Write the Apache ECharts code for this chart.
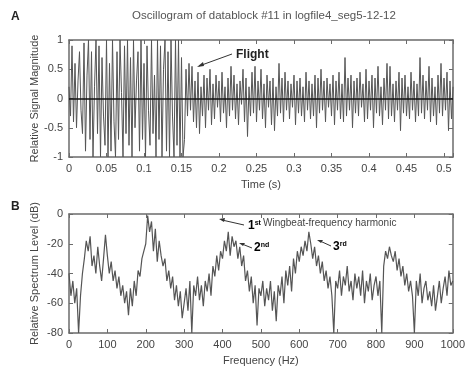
<!DOCTYPE html>
<html><head><meta charset="utf-8">
<script src="https://cdn.jsdelivr.net/npm/echarts@6/dist/echarts.min.js"></script>
<style>html,body{margin:0;padding:0;background:#fff}#c{width:468px;height:368px}</style>
</head><body><div id="c"></div>
<script>
// ---- Data ----
const chartTitle = 'Oscillogram of datablock #11 in logfile4_seg5-12-12';
const sampleInterval = 0.002; // seconds between samples
const signalValues = [
 0.2,-0.3,0.9,-0.4,0.6,-0.5,0.3,0.8,-0.2,-0.6,0.95,
 -0.9,0.4,1,-0.7,0.8,-1,0.2,1,-0.6,0.9,
 -1,0.7,-0.3,-0.8,1,-1,0.6,-0.9,1,-0.4,
 -1,0.8,-0.7,1,0.1,-1,0.9,-0.6,1,-0.8,
 0.7,-1,1,-0.5,0.3,0.8,-0.9,1,-0.7,0.6,
 -1,0.9,-0.2,-0.8,1,-0.6,0.4,-1,1,-0.7,
 0.9,-1,0.5,1,-0.9,0.8,-1,1,-0.3,-1,
 1,-0.8,1,-1,0.7,
 -1,
 -0.7,0.5,-0.3,0.6,-0.2,0.55,-0.4,0.3,-0.5,0.45,
 -0.6,0.2,-0.3,0.4,-0.5,0.35,-0.2,0.5,-0.45,0.25,
 -0.35,0.4,-0.15,0.3,-0.4,0.45,-0.25,0.2,-0.5,0.35,
 -0.3,0.55,-0.2,0.4,-0.35,0.25,-0.45,0.3,-0.1,0.5,
 -0.4,0.35,-0.65,0.2,-0.3,0.45,-0.25,0.55,-0.4,0.3,
 -0.2,0.5,-0.35,0.25,-0.5,0.4,-0.15,0.3,-0.45,0.35,
 -0.55,0.2,-0.3,0.6,-0.25,0.35,-0.4,0.45,-0.2,0.3,
 -0.35,0.25,-0.15,0.4,-0.45,0.3,-0.25,0.35,-0.3,0.2,
 -0.4,0.45,-0.2,0.3,-0.35,0.25,-0.3,0.4,-0.5,0.35,
 -0.25,0.5,-0.2,0.3,-0.4,0.35,-0.15,0.25,-0.3,0.4,
 -0.45,0.3,-0.2,0.45,-0.35,0.25,-0.4,0.7,-0.3,0.35,
 -0.2,0.4,-0.5,0.3,-0.25,0.35,-0.3,0.45,-0.15,0.25,
 -0.4,0.5,-0.35,0.3,-0.2,0.4,-0.5,0.35,-0.25,0.55,
 -0.3,0.2,-0.45,0.35,-0.2,0.6,-0.35,0.55,-0.3,0.25,
 -0.4,0.3,-0.2,0.45,-0.55,0.35,-0.25,0.4,-0.3,0.2,
 -0.35,0.45,-0.2,0.3,-0.4,0.25,-0.3,0.7,-0.25,0.4,
 -0.35,0.3,-0.2,0.55,-0.4,0.35,-0.3,0.2,-0.45,0.4,
 -0.25,0.6,-0.3,0.35,-0.2,0.45,-0.55,0.3,-0.35,0.2
];
const freqStep = 5; // Hz between spectrum bins
const spectrumValues = [
 -40,-55,-45,-60,-50,-80,-55,-40,-30,-18,
 -25,-15,-35,-28,-40,-22,-35,-45,-30,-14,
 -28,-40,-32,-45,-38,-50,-42,-55,-48,-60,
 -52,-68,-50,-62,-45,-55,-38,-42,-30,-25,
 -20,-1,-12,-5,-25,-10,-32,-18,-28,-35,
 -30,-45,-38,-50,-42,-58,-48,-62,-52,-70,
 -60,-50,-65,-45,-80,-48,-55,-42,-58,-48,
 -62,-45,-52,-40,-55,-35,-42,-28,-38,-25,
 -30,-18,-25,-12,-28,-15,-22,-18,-30,-22,
 -35,-28,-45,-38,-52,-42,-60,-48,-75,-50,
 -55,-45,-62,-50,-58,-45,-65,-52,-72,-48,
 -55,-42,-60,-38,-48,-35,-52,-30,-40,-25,
 -32,-22,-28,-18,-25,-12,-20,-30,-22,-35,
 -28,-40,-32,-45,-38,-50,-42,-55,-80,-45,
 -50,-38,-55,-42,-48,-35,-52,-45,-58,-40,
 -50,-42,-55,-38,-60,-45,-52,-40,-58,-48,
 -42,-55,-45,-80,-35,-25,-30,-22,-28,-32,
 -25,-38,-30,-42,-35,-48,-40,-52,-45,-55,
 -80,-45,-55,-40,-60,-50,-45,-58,-52,-62,
 -48,-65,-55,-45,-60,-50,-42,-55,-38,-48,
 -45
];
const timeTicks = {min: 0, max: 0.512, interval: 0.05};
const ampTicks = {min: -1, max: 1, interval: 0.5};
const freqTicks = {min: 0, max: 1000, interval: 100};
const levelTicks = {min: -80, max: 0, interval: 20};

// ---- Build ----
const sigData = signalValues.map((v, i) => [+(i * sampleInterval).toFixed(4), v]);
const specData = spectrumValues.map((v, i) => [i * freqStep, v]);

const FONT = 'Liberation Sans, Arial, sans-serif';
const lblColor = '#444';
const axisCol = '#6b6b6b';

function isMultiple(v, step) { return Math.abs(v / step - Math.round(v / step)) < 1e-6; }

function xAx(gi, t, name, gap, main) {
  return {
    type: 'value', gridIndex: gi, min: t.min, max: t.max, interval: t.interval,
    position: main ? 'bottom' : 'top',
    name: main ? name : '', nameLocation: 'middle', nameGap: gap, nameMoveOverlap: false,
    nameTextStyle: {color: lblColor, fontSize: 11, fontFamily: FONT},
    axisLine: {show: true, onZero: false, lineStyle: {color: axisCol, width: 1.5}},
    axisTick: {show: true, inside: true, length: 4, lineStyle: {color: axisCol}},
    axisLabel: {show: main, color: lblColor, fontSize: 11, fontFamily: FONT, margin: 6,
      formatter: v => isMultiple(v, t.interval) ? String(+v.toFixed(4)) : ''},
    splitLine: {show: false}
  };
}
function yAx(gi, t, name, gap, main) {
  return {
    type: 'value', gridIndex: gi, min: t.min, max: t.max, interval: t.interval,
    position: main ? 'left' : 'right',
    name: main ? name : '', nameLocation: 'middle', nameGap: gap, nameRotate: 90, nameMoveOverlap: false,
    nameTextStyle: {color: lblColor, fontSize: 11, fontFamily: FONT},
    axisLine: {show: true, onZero: false, lineStyle: {color: axisCol, width: 1.5}},
    axisTick: {show: true, inside: true, length: 4, lineStyle: {color: axisCol}},
    axisLabel: {show: main, color: lblColor, fontSize: 11, fontFamily: FONT, margin: 6,
      formatter: v => String(v)},
    splitLine: {show: false}
  };
}

const supRich = {
  b: {fontSize: 12, fontWeight: 'bold', fontFamily: FONT, color: '#333', verticalAlign: 'bottom'},
  s: {fontSize: 7, fontWeight: 'bold', fontFamily: FONT, color: '#333', verticalAlign: 'top', padding: [0, 0, 0, 0]}
};

const chart = echarts.init(document.getElementById('c'), null, {renderer: 'canvas'});
chart.setOption({
  backgroundColor: '#fff',
  animation: false,
  title: {text: chartTitle, left: 259, top: 5, textAlign: 'center',
    textStyle: {fontSize: 11.5, fontWeight: 'normal', color: '#555', fontFamily: FONT}},
  grid: [
    {left: 69, right: 15, top: 40, height: 117},
    {left: 69, right: 15, top: 214, height: 119}
  ],
  xAxis: [
    xAx(0, timeTicks, 'Time (s)', 22, true),
    xAx(0, timeTicks, '', 0, false),
    xAx(1, freqTicks, 'Frequency (Hz)', 22, true),
    xAx(1, freqTicks, '', 0, false)
  ],
  yAxis: [
    yAx(0, ampTicks, 'Relative Signal Magnitude', 29, true),
    yAx(0, ampTicks, '', 0, false),
    yAx(1, levelTicks, 'Relative Spectrum Level (dB)', 29, true),
    yAx(1, levelTicks, '', 0, false)
  ],
  series: [
    {type: 'line', xAxisIndex: 0, yAxisIndex: 0, data: sigData, symbol: 'none',
     lineStyle: {color: '#555', width: 1}, z: 3,
     markLine: {silent: true, symbol: 'none', label: {show: false},
       lineStyle: {color: '#111', width: 1.5, type: 'solid'}, data: [{yAxis: 0}]}},
    {type: 'line', xAxisIndex: 2, yAxisIndex: 2, data: specData, symbol: 'none',
     lineStyle: {color: '#555', width: 1.2}, z: 3}
  ],
  graphic: [
    {type: 'text', left: 11, top: 11, style: {text: 'A', font: 'bold 12px ' + FONT, fill: '#222'}},
    {type: 'text', left: 11, top: 201, style: {text: 'B', font: 'bold 12px ' + FONT, fill: '#222'}},
    {type: 'text', left: 236, top: 49, style: {text: 'Flight', font: 'bold 12px ' + FONT, fill: '#222'}, z: 10},
    {type: 'line', shape: {x1: 232, y1: 54, x2: 199, y2: 66}, style: {stroke: '#333', lineWidth: 1}, z: 10},
    {type: 'polygon', shape: {points: [[197, 67], [203, 62], [204, 66]]}, style: {fill: '#333'}, z: 10},
    {type: 'text', left: 248, top: 220, style: {rich: supRich, text: '{b|1}{s|st}'}, z: 10},
    {type: 'line', shape: {x1: 244, y1: 225, x2: 222, y2: 220}, style: {stroke: '#333', lineWidth: 1}, z: 10},
    {type: 'polygon', shape: {points: [[219, 219], [225, 218], [224, 222]]}, style: {fill: '#333'}, z: 10},
    {type: 'text', left: 263, top: 218, style: {text: 'Wingbeat-frequency harmonic', font: '10px ' + FONT, fill: '#444'}, z: 10},
    {type: 'text', left: 254, top: 242, style: {rich: supRich, text: '{b|2}{s|nd}'}, z: 10},
    {type: 'line', shape: {x1: 252, y1: 248, x2: 242, y2: 244}, style: {stroke: '#333', lineWidth: 1}, z: 10},
    {type: 'polygon', shape: {points: [[239, 243], [245, 243], [243, 246]]}, style: {fill: '#333'}, z: 10},
    {type: 'text', left: 333, top: 241, style: {rich: supRich, text: '{b|3}{s|rd}'}, z: 10},
    {type: 'line', shape: {x1: 331, y1: 246, x2: 320, y2: 241}, style: {stroke: '#333', lineWidth: 1}, z: 10},
    {type: 'polygon', shape: {points: [[317, 240], [323, 240], [321, 243]]}, style: {fill: '#333'}, z: 10}
  ]
});
</script></body></html>
